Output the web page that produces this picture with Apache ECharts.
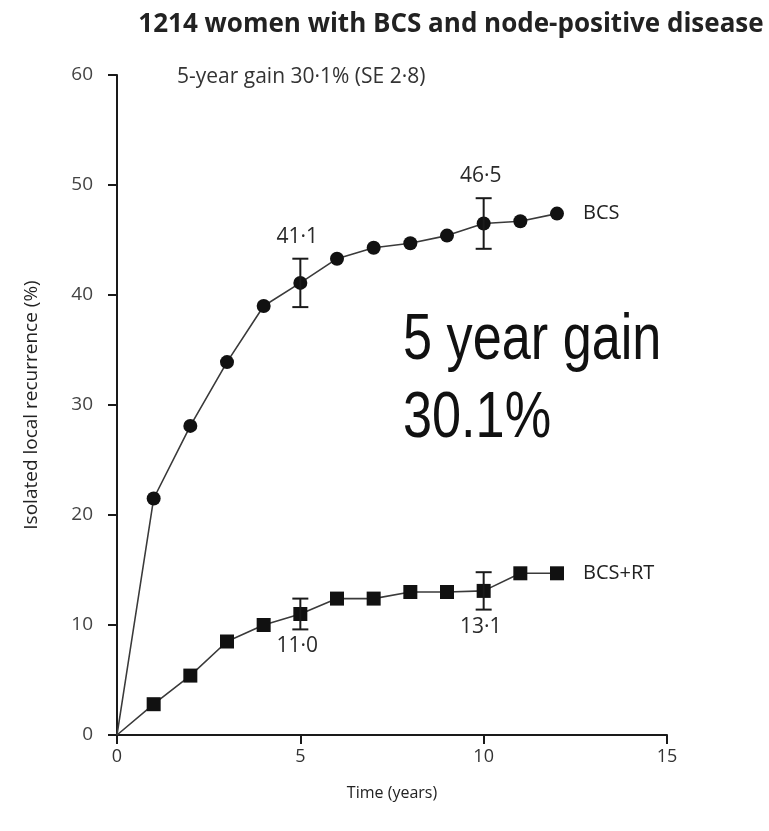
<!DOCTYPE html>
<html>
<head>
<meta charset="utf-8">
<script src="https://cdn.jsdelivr.net/npm/echarts@6/dist/echarts.min.js"></script>
<style>
  html, body { margin: 0; padding: 0; background: #fff; }
  #chart { width: 769px; height: 831px; }
</style>
</head>
<body>
<div id="chart"></div>
<script>
// Time since breast-conserving surgery (years)
const years = [0, 1, 2, 3, 4, 5, 6, 7, 8, 9, 10, 11, 12];

// Isolated local recurrence (%)
const bcs   = [0, 21.5, 28.1, 33.9, 39.0, 41.1, 43.3, 44.3, 44.7, 45.4, 46.5, 46.7, 47.4];
const bcsRt = [0, 2.8, 5.4, 8.5, 10.0, 11.0, 12.4, 12.4, 13.0, 13.0, 13.1, 14.7, 14.7];

// Error bars: [year, estimate, lower, upper]
const bcsErr   = [[5, 41.1, 38.9, 43.3], [10, 46.5, 44.2, 48.8]];
const bcsRtErr = [[5, 11.0, 9.6, 12.4], [10, 13.1, 11.4, 14.8]];

const xTicks = [0, 5, 10, 15];
const yTicks = [0, 10, 20, 30, 40, 50, 60];

const titleText = '1214 women with BCS and node-positive disease';
const subText = '5-year gain 30\u00b71% (SE 2\u00b78)';
const gainText = '5 year gain\n30.1%';

const fmt = v => v.toFixed(1).replace('.', '\u00b7');

const chart = echarts.init(document.getElementById('chart'), null, { renderer: 'canvas' });

function pairs(ys) {
  return years.map((x, i) => {
    const item = { value: [x, ys[i]] };
    if (i === 0) item.symbol = 'none';
    if (i === years.length - 1) item.label = { show: true };
    return item;
  });
}

// Draws a capped vertical bar plus the stated value above (side = -1) or below (side = 1)
function errorBar(side) {
  return function (params, api) {
    const x = api.value(0);
    const est = api.value(1);
    const top = api.coord([x, api.value(3)]);
    const bot = api.coord([x, api.value(2)]);
    const cap = 8;
    const st = { stroke: '#1a1a1a', lineWidth: 2 };
    const anchor = side < 0 ? top : bot;
    return {
      type: 'group',
      children: [
        { type: 'line', shape: { x1: top[0], y1: top[1], x2: bot[0], y2: bot[1] }, style: st },
        { type: 'line', shape: { x1: top[0] - cap, y1: top[1], x2: top[0] + cap, y2: top[1] }, style: st },
        { type: 'line', shape: { x1: bot[0] - cap, y1: bot[1], x2: bot[0] + cap, y2: bot[1] }, style: st },
        {
          type: 'text',
          style: {
            text: fmt(est),
            x: anchor[0] - 3,
            y: anchor[1] + (side < 0 ? -22 : 17),
            align: 'center',
            verticalAlign: 'middle',
            fill: '#2a2a2a',
            font: '21px "Open Sans", "Noto Sans", sans-serif'
          }
        }
      ]
    };
  };
}

const axisFont = '"Open Sans", "Noto Sans", sans-serif';

const option = {
  animation: false,
  backgroundColor: '#fff',
  title: [
    {
      text: titleText,
      left: 446, top: 7, textAlign: 'center',
      textStyle: { fontFamily: axisFont, fontWeight: 'bold', fontSize: 26, color: '#222' }
    },
    {
      text: subText,
      left: 172, top: 62,
      textStyle: { fontFamily: axisFont, fontWeight: 'normal', fontSize: 21, color: '#333' }
    }
  ],
  grid: { left: 117, right: 102, top: 75, bottom: 96, containLabel: false },
  xAxis: {
    type: 'value', min: 0, max: 15, interval: 5,
    name: 'Time (years)', nameLocation: 'middle', nameGap: 50,
    nameTextStyle: { fontFamily: axisFont, fontSize: 16, color: '#222' },
    axisLine: { show: true, lineStyle: { color: '#1a1a1a', width: 2 } },
    axisTick: { show: true, length: 9, lineStyle: { color: '#1a1a1a', width: 2 } },
    axisLabel: { fontFamily: axisFont, fontSize: 18, color: '#333', margin: 13,
      formatter: v => xTicks.includes(v) ? String(v) : '' },
    splitLine: { show: false }
  },
  yAxis: {
    type: 'value', min: 0, max: 60, interval: 10,
    name: 'Isolated local recurrence (%)', nameLocation: 'middle', nameGap: 76,
    nameTextStyle: { fontFamily: axisFont, fontSize: 19, color: '#222' },
    axisLine: { show: true, lineStyle: { color: '#1a1a1a', width: 2 } },
    axisTick: { show: true, length: 9, lineStyle: { color: '#1a1a1a', width: 2 } },
    axisLabel: { fontFamily: axisFont, fontSize: 19, color: '#444', margin: 24,
      formatter: v => yTicks.includes(v) ? String(v) : '' },
    splitLine: { show: false }
  },
  graphic: [
    {
      type: 'text', x: 403, y: 302, scaleX: 0.816,
      style: {
        text: gainText,
        font: '64px "Liberation Sans Narrow", "Liberation Sans", sans-serif',
        fill: '#111', lineHeight: 78, verticalAlign: 'top'
      }
    }
  ],
  series: [
    {
      name: 'BCS', type: 'line', data: pairs(bcs),
      symbol: 'circle', symbolSize: 14, showAllSymbol: true,
      lineStyle: { color: '#3a3a3a', width: 1.6 },
      itemStyle: { color: '#111' },
      label: { show: false, position: 'right', distance: 19, formatter: '{a}',
        fontFamily: axisFont, fontSize: 20, color: '#222' },
      z: 3
    },
    {
      name: 'BCS+RT', type: 'line', data: pairs(bcsRt),
      symbol: 'rect', symbolSize: 14, showAllSymbol: true,
      lineStyle: { color: '#3a3a3a', width: 1.6 },
      itemStyle: { color: '#111' },
      label: { show: false, position: 'right', distance: 19, formatter: '{a}',
        fontFamily: axisFont, fontSize: 20, color: '#222' },
      z: 3
    },
    {
      type: 'custom', renderItem: errorBar(-1), data: bcsErr,
      encode: { x: 0, y: [2, 3] }, z: 4, silent: true
    },
    {
      type: 'custom', renderItem: errorBar(1), data: bcsRtErr,
      encode: { x: 0, y: [2, 3] }, z: 4, silent: true
    }
  ]
};

chart.setOption(option);
</script>
</body>
</html>
